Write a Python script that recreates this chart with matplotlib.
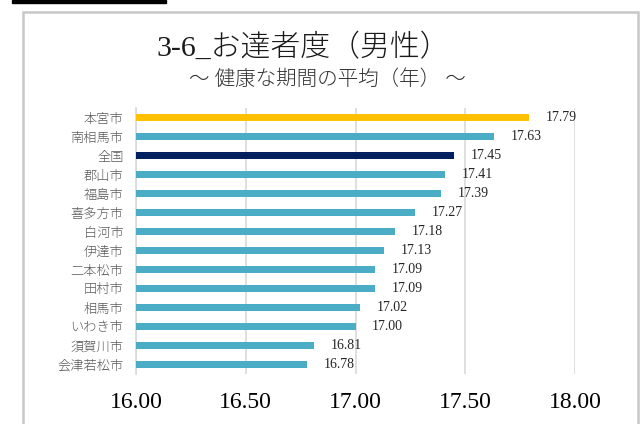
import matplotlib
matplotlib.use("Agg")
import matplotlib.pyplot as plt
from matplotlib.patches import Rectangle

# data, top to bottom
cities = ["本宮市", "南相馬市", "全国", "郡山市", "福島市", "喜多方市", "白河市",
          "伊達市", "二本松市", "田村市", "相馬市", "いわき市", "須賀川市", "会津若松市"]
values = [17.79, 17.63, 17.45, 17.41, 17.39, 17.27, 17.18,
          17.13, 17.09, 17.09, 17.02, 17.00, 16.81, 16.78]
x_ticks = [16.0, 16.5, 17.0, 17.5, 18.0]

plt.rcParams['font.family'] = ['Noto Sans CJK JP', 'DejaVu Sans']
serif_jp = ['Liberation Serif', 'Noto Sans CJK JP']

W, H = 641, 424
fig = plt.figure(figsize=(W / 100, H / 100), dpi=100)

# chart frame and the black strip at the top
fig.patches.append(Rectangle((23 / W, -0.1), (638 - 23) / W, 1.1 - 12 / H,
                             transform=fig.transFigure, fill=False,
                             edgecolor='#c8c8c8', linewidth=1.8))
fig.patches.append(Rectangle((12 / W, 1 - 2.5 / H), (166 - 12) / W, 2.5 / H,
                             transform=fig.transFigure, color='black'))

ax = fig.add_axes([136 / W, 1 - 374 / H, (575 - 136) / W, (374 - 108) / H])

colors = []
for c in cities:
    if c == "本宮市":
        colors.append('#FFC000')
    elif c == "全国":
        colors.append('#002060')
    else:
        colors.append('#4BACC6')

pos = list(range(len(cities)))
bars = ax.barh(pos, [v - x_ticks[0] for v in values], left=x_ticks[0],
               height=0.34, color=colors, zorder=3)
ax.bar_label(bars, labels=[f"{v:.2f}" for v in values], padding=12,
             fontsize=10, family=serif_jp, color='#262626')

ax.set_xlim(x_ticks[0], x_ticks[-1])
ax.set_ylim(len(cities) - 0.5, -0.5)
ax.set_xticks(x_ticks)
ax.set_xticklabels([f"{t:.2f}" for t in x_ticks], fontsize=17,
                   family=serif_jp, color='black')
ax.set_yticks(pos)
ax.set_yticklabels(cities, fontsize=9.5, color='#595959', fontweight='light')
ax.tick_params(axis='x', length=0, pad=13)
ax.tick_params(axis='y', length=0, pad=9)
ax.grid(axis='x', color='#d9d9d9', linewidth=1.2, zorder=0)
for s in ['top', 'right', 'bottom']:
    ax.spines[s].set_visible(False)
ax.spines['left'].set_color('#d9d9d9')
ax.spines['left'].set_linewidth(1.2)

fig.text(303 / W, 1 - 48 / H, "3-6_お達者度（男性）", ha='center', va='center',
         fontsize=21.5, family=serif_jp, color='#1a1a1a', fontweight='light')
fig.text(327 / W, 1 - 80 / H, "～ 健康な期間の平均（年） ～", ha='center', va='center',
         fontsize=14.8, family=serif_jp, color='#333333', fontweight='light')

fig.savefig("out.png", dpi=100)
